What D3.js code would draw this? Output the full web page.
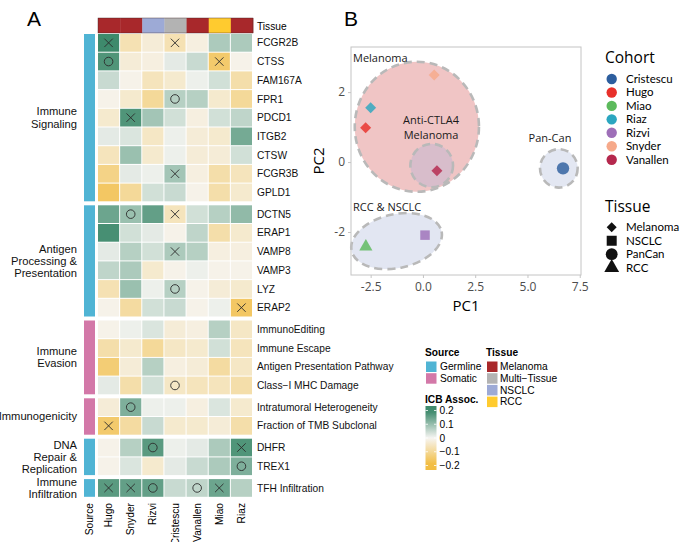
<!DOCTYPE html>
<html><head><meta charset="utf-8">
<script src="https://cdn.jsdelivr.net/npm/d3@7"></script>
<style>body{margin:0;background:#fff}svg{display:block}</style>
</head><body><svg id="c" width="684" height="542"></svg>
<script>
// ---------------- DATA ----------------
const cohorts = ["Hugo","Snyder","Rizvi","Cristescu","Vanallen","Miao","Riaz"];
const cohortTissue = ["Melanoma","Melanoma","NSCLC","Multi-Tissue","Melanoma","RCC","Melanoma"];
const features = ["FCGR2B","CTSS","FAM167A","FPR1","PDCD1","ITGB2","CTSW","FCGR3B","GPLD1",
  "DCTN5","ERAP1","VAMP8","VAMP3","LYZ","ERAP2",
  "ImmunoEditing","Immune Escape","Antigen Presentation Pathway","Class\u2212I MHC Damage",
  "Intratumoral Heterogeneity","Fraction of TMB Subclonal",
  "DHFR","TREX1","TFH Infiltration"];
const groupNames = [["Immune","Signaling"],["Antigen","Processing &","Presentation"],["Immune","Evasion"],["Immunogenicity"],["DNA","Repair &","Replication"],["Immune","Infiltration"]];
const groupSizes = [9,6,4,2,2,1];
const groupSource = ["Germline","Germline","Somatic","Somatic","Germline","Germline"];
const values = [
 [0.20,-0.07,-0.03,-0.07,-0.02,0.08,0.08],
 [0.18,-0.03,-0.02,0.02,0.05,-0.15,-0.01],
 [0.05,-0.01,-0.06,-0.04,0.01,0.04,-0.08],
 [-0.01,-0.04,-0.10,0.07,0.07,-0.04,-0.10],
 [-0.04,0.18,0.09,0.04,-0.02,0.04,0.06],
 [0.02,0.03,-0.05,0.01,-0.03,-0.04,0.14],
 [-0.06,0.10,-0.04,0.01,-0.03,-0.03,0.04],
 [-0.12,0.02,0.01,0.09,-0.02,-0.08,-0.06],
 [-0.16,-0.10,0.04,0.05,-0.01,-0.08,-0.04],
 [0.15,0.10,0.16,-0.06,0.04,0.07,0.11],
 [0.19,0.04,0.02,-0.01,0.06,-0.08,-0.04],
 [0.02,0.07,0.04,0.08,0.07,-0.02,-0.02],
 [0.06,0.08,-0.04,-0.01,0.01,-0.01,-0.01],
 [-0.07,0.10,0.01,0.07,-0.01,-0.03,-0.04],
 [-0.01,-0.09,0.04,0.05,-0.01,0.01,-0.16],
 [-0.01,0.01,0.03,-0.03,-0.02,0.07,-0.05],
 [-0.08,-0.04,-0.10,-0.05,-0.04,0.04,-0.06],
 [-0.14,-0.03,0.07,-0.02,-0.03,-0.09,-0.05],
 [0.02,-0.08,0.04,-0.05,-0.06,-0.06,-0.08],
 [-0.03,0.13,0.01,0.01,-0.02,0.03,-0.04],
 [-0.15,-0.09,0.05,-0.04,-0.04,-0.03,-0.08],
 [-0.01,0.07,0.17,0.01,0.02,0.08,0.18],
 [-0.01,0.03,-0.04,0.02,0.05,0.08,0.13],
 [0.17,0.16,0.16,0.05,0.06,0.15,0.07]
];
const marks = ["X..X...","O....X.",".......","...O...",".X.....",".......",".......","...X...",".......",
  ".O.X...",".......","...X...",".......","...O...","......X",
  ".......",".......",".......","...O...",
  ".O.....","X......",
  "..O...X","......O","XXO.OX."];
const sourceLevels = ["Germline","Somatic"];
const tissueLevels = ["Melanoma","Multi\u2212Tissue","NSCLC","RCC"];
const icbTicks = [0.2,0.1,0,-0.1,-0.2];

const pcCohort = ["Cristescu","Hugo","Miao","Riaz","Rizvi","Snyder","Vanallen"];
const pcTissue = ["PanCan","Melanoma","RCC","Melanoma","NSCLC","Melanoma","Melanoma"];
const pc1 = [6.7,-2.74,-2.73,-2.5,0.1,0.54,0.67];
const pc2 = [-0.18,0.98,-2.42,1.55,-2.09,2.49,-0.25];
const pcTissueLevels = ["Melanoma","NSCLC","PanCan","RCC"];
const ellipseNames = ["Melanoma","Anti-CTLA4 Melanoma","Pan-Can","RCC & NSCLC"];
const ellipseCX = [-0.29,0.42,6.5,-1.26];
const ellipseCY = [1.01,-0.1,-0.18,-2.26];
const ellipseRX = [2.97,1.02,0.9,2.2];
const ellipseRY = [1.86,0.62,0.55,0.77];
const ellipseAngle = [0,0,0,-12];
const xTicks = [-2.5,0,2.5,5,7.5];
const yTicks = [-2,0,2];

// ---------------- STYLE ----------------
const svg = d3.select("#c");
const fA = "'Liberation Sans', Arial, sans-serif";
const fB = "'Open Sans', 'Noto Sans', sans-serif";
const fL = "Lato, 'Open Sans', sans-serif";
const tissueColor = d3.scaleOrdinal().domain(["Melanoma","Multi-Tissue","NSCLC","RCC"]).range(["#A8282B","#B3B3B3","#9DAAD6","#FFCB2F"]);
const sourceColor = d3.scaleOrdinal().domain(sourceLevels).range(["#50B4D4","#D378A8"]);
const heat = d3.scaleLinear().domain([-0.2,0,0.2]).range(["#F2BC3F","#F6F5F2","#3E8A6C"]).clamp(true);
const cohortColor = d3.scaleOrdinal().domain(["Cristescu","Hugo","Miao","Riaz","Rizvi","Snyder","Vanallen"])
  .range(["#2D5E9E","#E8302A","#5CBA5C","#2BA6C0","#9E6FB8","#F6A98A","#B5284D"]);

// ---------------- PANEL A ----------------
svg.append("text").attr("x",27).attr("y",26).attr("font-family",fA).attr("font-size",21).text("A");
const x = d3.scaleBand().domain(cohorts).range([98,253]);
const rowH = 18.7, gap = 3, top0 = 34;
const groupOf = [];
groupSizes.forEach((n,g)=>{for(let i=0;i<n;i++) groupOf.push(g);});
const yb = d3.scaleBand().domain(d3.range(features.length)).range([top0, top0 + features.length*rowH]);
const yRow = i => yb(i) + gap*groupOf[i];

const gA = svg.append("g");
gA.selectAll("rect.t").data(cohorts).join("rect")
  .attr("x",d=>x(d)).attr("y",18).attr("width",x.bandwidth()+0.3).attr("height",15)
  .attr("fill",(d,i)=>tissueColor(cohortTissue[i]));
gA.append("rect").attr("x",98).attr("y",18).attr("width",155).attr("height",15).attr("fill","none").attr("stroke","#3a2020").attr("stroke-width",0.4);
gA.append("text").attr("x",257).attr("y",26).attr("dy","0.35em").attr("font-family",fA).attr("font-size",10.2).text("Tissue");

const cells = [];
values.forEach((row,i)=>row.forEach((v,j)=>cells.push({i,j,v,m:marks[i][j]})));
gA.selectAll("rect.c").data(cells).join("rect")
  .attr("x",d=>x(cohorts[d.j])).attr("y",d=>yRow(d.i))
  .attr("width",x.bandwidth()-1).attr("height",rowH-1)
  .attr("fill",d=>heat(d.v));
cells.filter(d=>d.m!==".").forEach(d=>{
  const cx = x(cohorts[d.j]) + (x.bandwidth()-1)/2, cy = yRow(d.i) + (rowH-1)/2;
  if(d.m==="O"){
    gA.append("circle").attr("cx",cx).attr("cy",cy).attr("r",4.3).attr("fill","none").attr("stroke","#2b2b2b").attr("stroke-width",0.9);
  } else {
    const s=4.2;
    gA.append("path").attr("d",`M${cx-s},${cy-s}L${cx+s},${cy+s}M${cx-s},${cy+s}L${cx+s},${cy-s}`).attr("stroke","#2b2b2b").attr("stroke-width",0.9);
  }
});
gA.selectAll("text.r").data(features).join("text")
  .attr("x",257).attr("y",(d,i)=>yRow(i)+(rowH-1)/2).attr("dy","0.35em")
  .attr("font-family",fA).attr("font-size",10.2).attr("fill","#111").text(d=>d);
let acc=0;
groupSizes.forEach((n,g)=>{
  const y0 = yRow(acc), y1 = yRow(acc+n-1)+rowH-1;
  gA.append("rect").attr("x",84).attr("y",y0).attr("width",11).attr("height",y1-y0).attr("fill",sourceColor(groupSource[g]));
  const lines = groupNames[g], lh = 12.2, mid=(y0+y1)/2;
  lines.forEach((t,k)=>{
    gA.append("text").attr("x",77).attr("y",mid+(k-(lines.length-1)/2)*lh).attr("dy","0.35em")
      .attr("text-anchor","end").attr("font-family",fA).attr("font-size",11.2).attr("fill","#111").text(t);
  });
  acc+=n;
});
const colLab = gA.append("g");
colLab.append("text").attr("transform","translate(92.5,503) rotate(-90)").attr("text-anchor","end").attr("font-family",fA).attr("font-size",10.2).text("Source");
cohorts.forEach(c=>{
  colLab.append("text").attr("transform",`translate(${x(c)+(x.bandwidth()-1)/2+3.5},503) rotate(-90)`)
    .attr("text-anchor","end").attr("font-family",fA).attr("font-size",10.2).text(c);
});

const gL = svg.append("g").attr("font-family",fA).attr("font-size",10.2);
gL.append("text").attr("x",425).attr("y",352).attr("dy","0.35em").attr("font-weight","bold").text("Source");
sourceLevels.forEach((s,k)=>{
  gL.append("rect").attr("x",426).attr("y",361.5+k*11.7).attr("width",10.5).attr("height",10.5).attr("fill",sourceColor(s));
  gL.append("text").attr("x",440).attr("y",366.7+k*11.7).attr("dy","0.35em").text(s);
});
gL.append("text").attr("x",486).attr("y",352).attr("dy","0.35em").attr("font-weight","bold").text("Tissue");
tissueLevels.forEach((s,k)=>{
  gL.append("rect").attr("x",487).attr("y",361.5+k*11.7).attr("width",10.5).attr("height",10.5).attr("fill",tissueColor(s.replace("\u2212","-")));
  gL.append("text").attr("x",500).attr("y",366.7+k*11.7).attr("dy","0.35em").text(s);
});
gL.append("text").attr("x",425).attr("y",399.5).attr("dy","0.35em").attr("font-weight","bold").text("ICB Assoc.");
const ly = d3.scaleLinear().domain([0.2,-0.2]).range([410.5,465.5]);
const defs = svg.append("defs");
const grad = defs.append("linearGradient").attr("id","g1").attr("x1",0).attr("x2",0).attr("y1",0).attr("y2",1);
d3.range(0,1.0001,0.1).forEach(t=>{
  grad.append("stop").attr("offset",t).attr("stop-color",heat(0.24-0.48*t));
});
gL.append("rect").attr("x",425.5).attr("y",406).attr("width",11).attr("height",64).attr("fill","url(#g1)");
icbTicks.forEach(t=>{
  gL.append("line").attr("x1",425.5).attr("x2",428).attr("y1",ly(t)).attr("y2",ly(t)).attr("stroke","#fff").attr("stroke-width",0.8);
  gL.append("line").attr("x1",434).attr("x2",436.5).attr("y1",ly(t)).attr("y2",ly(t)).attr("stroke","#fff").attr("stroke-width",0.8);
  gL.append("text").attr("x",439.5).attr("y",ly(t)).attr("dy","0.35em").text(d3.format(".1~f")(t).replace("-","\u2212"));
});

// ---------------- PANEL B ----------------
svg.append("text").attr("x",344).attr("y",26).attr("font-family",fA).attr("font-size",21).text("B");
const px = d3.scaleLinear().domain([-3.44,7.56]).range([351,581]);
const py = d3.scaleLinear().domain([-3.23,3.29]).range([275,47]);
const gB = svg.append("g");
const fills = ["#F0C5C5","#D8BDCB","#E3E7F2","#E2E6F2"];
ellipseNames.forEach((n,k)=>{
  const cx=px(ellipseCX[k]), cy=py(ellipseCY[k]);
  gB.append("ellipse").attr("cx",cx).attr("cy",cy)
    .attr("rx",px(ellipseCX[k]+ellipseRX[k])-cx).attr("ry",cy-py(ellipseCY[k]+ellipseRY[k]))
    .attr("transform",`rotate(${ellipseAngle[k]},${cx},${cy})`)
    .attr("fill",fills[k]).attr("stroke","#B9B9B9").attr("stroke-width",2.6).attr("stroke-dasharray","8,5");
});
const lab = gB.append("g").attr("font-family",fB).attr("font-size",11).attr("fill","#1a1a1a");
lab.append("text").attr("x",353).attr("y",58).attr("dy","0.35em").text("Melanoma");
lab.append("text").attr("x",431).attr("y",120).attr("dy","0.35em").attr("text-anchor","middle").text("Anti-CTLA4");
lab.append("text").attr("x",431).attr("y",135).attr("dy","0.35em").attr("text-anchor","middle").text("Melanoma");
lab.append("text").attr("x",550).attr("y",138).attr("dy","0.35em").attr("text-anchor","middle").text("Pan-Can");
lab.append("text").attr("x",353).attr("y",207).attr("dy","0.35em").text("RCC & NSCLC");

const shapeOf = t => ({Melanoma:d3.symbolSquare, NSCLC:d3.symbolSquare, PanCan:d3.symbolCircle, RCC:d3.symbolTriangle})[t];
const sizeOf = {Melanoma:60, NSCLC:90, PanCan:120, RCC:75};
const rotOf = {Melanoma:45, NSCLC:0, PanCan:0, RCC:0};
gB.selectAll("path.pt").data(pc1).join("path")
  .attr("d",(d,i)=>d3.symbol(shapeOf(pcTissue[i]),sizeOf[pcTissue[i]])())
  .attr("transform",(d,i)=>`translate(${px(d)},${py(pc2[i])}) rotate(${rotOf[pcTissue[i]]})`)
  .attr("fill",(d,i)=>cohortColor(pcCohort[i])).attr("fill-opacity",0.82);

gB.append("rect").attr("x",351).attr("y",47).attr("width",230).attr("height",228).attr("fill","none").attr("stroke","#C4C4C4").attr("stroke-width",1);
const hy = s=>s.replace("\u2212","-");
const ax = gB.append("g").attr("transform","translate(0,275)")
  .call(d3.axisBottom(px).tickValues(xTicks).tickSize(3).tickFormat(d=>hy(d3.format(".1f")(d))));
const ay = gB.append("g").attr("transform","translate(351,0)")
  .call(d3.axisLeft(py).tickValues(yTicks).tickSize(3).tickFormat(d=>hy(d3.format("d")(d))));
[ax,ay].forEach(a=>{
  a.select(".domain").remove();
  a.selectAll(".tick line").attr("stroke","#C4C4C4");
  a.selectAll("text").attr("font-family",fB).attr("font-size",12).attr("fill","#4D4D4D");
});
ax.selectAll("text").attr("dy","0.85em");
gB.append("text").attr("x",466).attr("y",306).attr("dy","0.35em").attr("text-anchor","middle").attr("font-family",fB).attr("font-size",15).text("PC1");
gB.append("text").attr("transform","translate(319,161) rotate(-90)").attr("dy","0.35em").attr("text-anchor","middle").attr("font-family",fB).attr("font-size",15).text("PC2");

const lb = gB.append("g").attr("font-family",fL);
lb.append("text").attr("x",605).attr("y",58).attr("dy","0.35em").attr("font-family",fB).attr("font-size",15.5).text("Cohort");
cohortColor.domain().forEach((c,k)=>{
  lb.append("circle").attr("cx",611.7).attr("cy",79+k*13.45).attr("r",5.2).attr("fill",cohortColor(c));
  lb.append("text").attr("x",626).attr("y",79+k*13.45).attr("dy","0.35em").attr("font-size",11.5).text(c);
});
lb.append("text").attr("x",605).attr("y",207).attr("dy","0.35em").attr("font-family",fB).attr("font-size",15.5).text("Tissue");
pcTissueLevels.forEach((t,k)=>{
  const yy = 227.3 + k*13.45;
  const sz = {Melanoma:50, NSCLC:100, PanCan:110, RCC:95}[t];
  lb.append("path").attr("d",d3.symbol(shapeOf(t),sz)()).attr("transform",`translate(611.7,${yy}) rotate(${rotOf[t]})`).attr("fill","#111");
  lb.append("text").attr("x",626).attr("y",yy).attr("dy","0.35em").attr("font-size",11.5).text(t);
});
</script>
</body></html>
